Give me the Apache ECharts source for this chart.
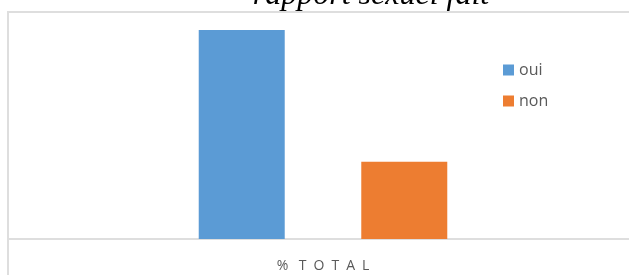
<!DOCTYPE html>
<html>
<head>
<meta charset="utf-8">
<script src="https://cdn.jsdelivr.net/npm/echarts@6/dist/echarts.min.js"></script>
<style>
  html, body { margin: 0; padding: 0; background: #fff; }
  #chart { width: 629px; height: 275px; }
</style>
</head>
<body>
<div id="chart"></div>
<script>
// values (share of respondents, %)
const categories = ["% TOTAL"];
const seriesNames = ["oui", "non"];
const ouiValues = [73];
const nonValues = [27];
const colors = ["#5b9bd5", "#ed7d31"];

const chart = echarts.init(document.getElementById("chart"), null, { renderer: "canvas" });

// spread the category label out like the original (letter spaced caps)
const spaced = (s) => s.split(" ").map((w) => w.split("").join("\u2002")).join(" \u2002");

chart.setOption({
  animation: false,
  color: colors,
  graphic: [
    {
      type: "rect",
      shape: { x: 8, y: 12, width: 700, height: 400 },
      style: { fill: "none", stroke: "#dedede", lineWidth: 2 },
      z: 0
    },
    {
      type: "text",
      x: 371, y: -20,
      style: {
        text: "rapport sexuel fait",
        font: "italic 32px 'Liberation Serif'",
        fill: "#000",
        align: "center"
      }
    }
  ],
  legend: {
    orient: "vertical",
    left: 498,
    top: 57,
    itemWidth: 11,
    itemHeight: 11,
    itemGap: 15,
    icon: "rect",
    textStyle: { color: "#595959", fontSize: 16, fontFamily: "Open Sans" },
    data: seriesNames
  },
  grid: { left: 8, width: 630, top: 10, bottom: 36, outerBoundsMode: "none" },
  xAxis: {
    type: "category",
    data: categories,
    axisLine: { lineStyle: { color: "#dedede", width: 2 } },
    axisTick: { show: false },
    axisLabel: {
      color: "#595959",
      fontSize: 14,
      fontFamily: "Open Sans",
      margin: 20,
      formatter: spaced
    }
  },
  yAxis: {
    type: "value",
    min: 0,
    max: 80,
    show: false
  },
  series: [
    { name: seriesNames[0], type: "bar", data: ouiValues, barWidth: 86, barGap: "89%" },
    { name: seriesNames[1], type: "bar", data: nonValues, barWidth: 86, barGap: "89%" }
  ]
});
</script>
</body>
</html>
